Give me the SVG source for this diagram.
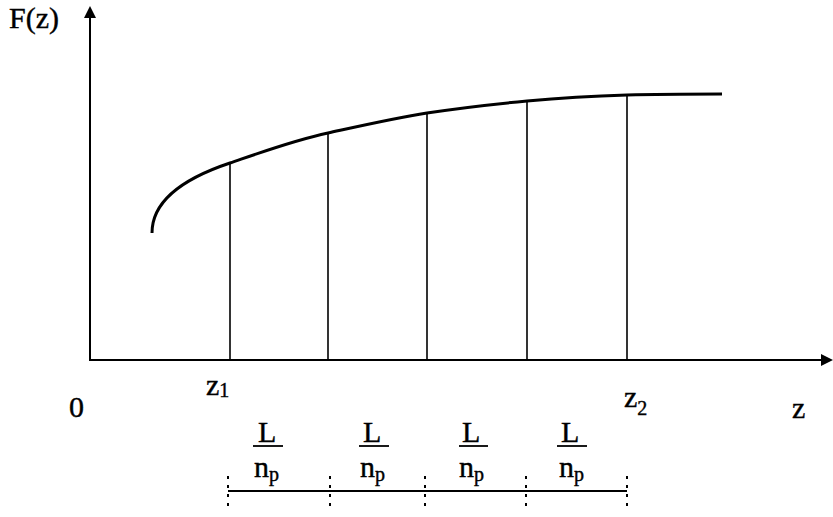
<svg xmlns="http://www.w3.org/2000/svg" width="833" height="517" viewBox="0 0 833 517">
<style>
text{font-family:"Liberation Serif","Times New Roman",serif;fill:#000;stroke:#000;stroke-width:0.4;font-size:30px}
.sub{font-size:20px}
.ax{stroke:#000;stroke-width:2;fill:none}
.vl{stroke:#000;stroke-width:1.6}
.ul{stroke:#000;stroke-width:1.8}
.tk{stroke:#000;stroke-width:2;stroke-dasharray:3,6}
</style>
<rect width="833" height="517" fill="#fff"/>
<g id="axes">
<line class="ax" x1="90" y1="360" x2="90" y2="16"/>
<polygon points="90,6 84,18 96,18" fill="#000"/>
<line class="ax" x1="89" y1="360" x2="823" y2="360"/>
<polygon points="833,360 821,354 821,366" fill="#000"/>
</g>
<g id="curve">
<path d="M152,233 C152,200 185,178 230,163 C262,152 295,140 328,133 C360,126 395,118 427,113 C460,108 495,104 527,101 C560,98 595,96 627,95 C660,94 690,94 722,94" fill="none" stroke="#000" stroke-width="3"/>
</g>
<g id="verticals">
<line class="vl" x1="230" y1="163" x2="230" y2="360"/>
<line class="vl" x1="328" y1="133" x2="328" y2="360"/>
<line class="vl" x1="427" y1="113" x2="427" y2="360"/>
<line class="vl" x1="527" y1="101" x2="527" y2="360"/>
<line class="vl" x1="627" y1="95" x2="627" y2="360"/>
</g>
<g id="labels">
<text x="9" y="28">F(z)</text>
<text x="69" y="417">0</text>
<text x="206" y="395">z<tspan class="sub" dy="2">1</tspan></text>
<text x="624" y="407">z<tspan class="sub" dy="8">2</tspan></text>
<text x="792" y="418">z</text>
</g>
<g id="segments">
<g id="seg1"><text x="258" y="442">L</text><line class="ul" x1="253" y1="446" x2="283" y2="446"/><text x="254" y="477">n<tspan class="sub" dy="4">p</tspan></text></g>
<g id="seg2"><text x="363" y="442">L</text><line class="ul" x1="359" y1="446" x2="389" y2="446"/><text x="360" y="477">n<tspan class="sub" dy="4">p</tspan></text></g>
<g id="seg3"><text x="462" y="442">L</text><line class="ul" x1="459" y1="446" x2="488" y2="446"/><text x="459" y="477">n<tspan class="sub" dy="4">p</tspan></text></g>
<g id="seg4"><text x="561" y="442">L</text><line class="ul" x1="557" y1="446" x2="587" y2="446"/><text x="559" y="477">n<tspan class="sub" dy="4">p</tspan></text></g>
<line x1="228" y1="491" x2="627" y2="491" stroke="#000" stroke-width="2.2"/>
<g id="ticks">
<line class="tk" x1="228" y1="476" x2="228" y2="508"/>
<line class="tk" x1="330" y1="476" x2="330" y2="508"/>
<line class="tk" x1="425" y1="476" x2="425" y2="508"/>
<line class="tk" x1="526" y1="476" x2="526" y2="508"/>
<line class="tk" x1="627" y1="476" x2="627" y2="508"/>
</g>
</g>
</svg>
